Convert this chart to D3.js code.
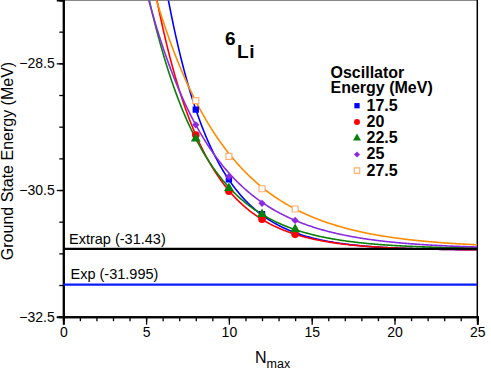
<!DOCTYPE html>
<html>
<head>
<meta charset="utf-8">
<script src="https://cdn.jsdelivr.net/npm/d3@7/dist/d3.min.js"></script>
<style>
    body { margin: 0; background: #fff; }
    text { font-family: "Liberation Sans", Arial, Helvetica, sans-serif; }
</style>
</head>
<body>
<div id="chart"></div>
<script>

// oscillator energies (MeV) and the Nmax values that were computed
var energies = ["17.5", "20", "22.5", "25", "27.5"];
var nmax = [8, 10, 12, 14];

// ground state energies (MeV), one row per oscillator energy
var e175 = [-29.23, -30.33, -30.88, -31.18];
var e20  = [-29.63, -30.52, -30.96, -31.20];
var e225 = [-29.69, -30.47, -30.88, -31.12];
var e25  = [-29.47, -30.29, -30.71, -30.98];
var e275 = [-29.09, -29.97, -30.48, -30.80];

// exponential fit E(N) = Einf + a * exp(-b N)
var fitInf  = [-31.45, -31.45, -31.43, -31.43, -31.42];
var fitAmp  = [35.7, 25.5, 17.7, 13.9, 13.5];
var fitRate = [0.347, 0.33, 0.29, 0.245, 0.22];

var extrapValue = -31.43;
var expValue = -31.995;

var xTicks = [0, 5, 10, 15, 20, 25];
var yTicks = [-28.5, -30.5, -32.5];

var rows = [e175, e20, e225, e25, e275];
var colors = ["#0000ff", "#ff0000", "#0a800a", "#8a2be2", "#ff8c00"];
var diamond = d3.symbolDiamond2 || d3.symbolDiamond;
var symbols = [d3.symbolSquare, d3.symbolCircle, d3.symbolTriangle, diamond, d3.symbolSquare];

var width = 491, height = 369;
var plotLeft = 63.3, plotRight = 477.3, plotTop = 0.5, plotBottom = 316.7;

var svg = d3.select("#chart").append("svg")
    .attr("width", width)
    .attr("height", height);

var x = d3.scaleLinear().domain([0, 25]).range([plotLeft, plotRight]);
var y = d3.scaleLinear().domain([-32.5, -27.5]).range([plotBottom, 0]);

svg.append("defs").append("clipPath").attr("id", "plotclip")
    .append("rect")
    .attr("x", plotLeft).attr("y", plotTop)
    .attr("width", plotRight - plotLeft).attr("height", plotBottom - plotTop);

// frame: top and right borders
svg.append("line")
    .attr("x1", plotLeft).attr("x2", plotRight).attr("y1", plotTop).attr("y2", plotTop)
    .attr("stroke", "#888").attr("stroke-width", 1);
svg.append("line")
    .attr("x1", plotRight).attr("x2", plotRight).attr("y1", 0).attr("y2", plotBottom)
    .attr("stroke", "#000").attr("stroke-width", 1.5);

// x axis: minor ticks every 1, labels every 5
var xAxisMinor = d3.axisBottom(x).tickValues(d3.range(0, 26, 1)).tickSize(4.5).tickFormat("");
var xAxis = d3.axisBottom(x).tickValues(xTicks).tickSize(8).tickPadding(2).tickFormat(d3.format("d"));

svg.append("g").attr("transform", "translate(0," + plotBottom + ")").call(xAxisMinor);
var gx = svg.append("g").attr("transform", "translate(0," + plotBottom + ")").call(xAxis);

// y axis: ticks every 0.5, labels every 2
var yAxisMinor = d3.axisLeft(y).tickValues(d3.range(-32.5, -27.4, 0.5)).tickSize(4).tickFormat("");
var yAxis = d3.axisLeft(y).tickValues(yTicks).tickSize(6.5).tickPadding(2).tickFormat(d3.format(".1f"));

svg.append("g").attr("transform", "translate(" + plotLeft + ",0)").call(yAxisMinor);
var gy = svg.append("g").attr("transform", "translate(" + plotLeft + ",0)").call(yAxis);

svg.selectAll(".domain").attr("stroke", "#000").attr("stroke-width", 2);
svg.selectAll(".tick line").attr("stroke", "#000").attr("stroke-width", 1.3);
svg.selectAll(".tick text")
    .style("font-size", "14px")
    .style("font-family", "'Liberation Sans', Arial, sans-serif")
    .attr("fill", "#000");

// axis titles
svg.append("text")
    .attr("transform", "translate(13,161) rotate(-90)")
    .attr("text-anchor", "middle")
    .style("font-size", "16px")
    .text("Ground State Energy (MeV)");

var nt = svg.append("text")
    .attr("x", 255).attr("y", 363)
    .style("font-size", "16px")
    .text("N");
nt.append("tspan").attr("dy", 4.5).style("font-size", "12.5px").text("max");

// fit curves
var plot = svg.append("g").attr("clip-path", "url(#plotclip)");

var line = d3.line()
    .x(function(d) { return x(d[0]); })
    .y(function(d) { return y(d[1]); });

rows.forEach(function(row, i) {
    var pts = d3.range(4, 25.001, 0.05).map(function(n) {
        return [n, fitInf[i] + fitAmp[i] * Math.exp(-fitRate[i] * n)];
    });
    plot.append("path")
        .datum(pts)
        .attr("d", line)
        .attr("fill", "none")
        .attr("stroke", colors[i])
        .attr("stroke-width", 1.6);
});

// reference lines
plot.append("line")
    .attr("x1", x(0)).attr("x2", x(25))
    .attr("y1", y(extrapValue)).attr("y2", y(extrapValue))
    .attr("stroke", "#000").attr("stroke-width", 2.2);
plot.append("line")
    .attr("x1", x(0)).attr("x2", x(25))
    .attr("y1", y(expValue)).attr("y2", y(expValue))
    .attr("stroke", "#0a1cff").attr("stroke-width", 2.2);

svg.append("text")
    .attr("x", 69).attr("y", 244)
    .style("font-size", "14.5px")
    .text("Extrap (" + extrapValue + ")");
svg.append("text")
    .attr("x", 70.5).attr("y", 279)
    .style("font-size", "14.5px")
    .text("Exp (" + expValue + ")");

// data markers
function markerStyle(sel, i) {
    sel.attr("fill", i == 4 ? "#fff" : colors[i])
        .attr("stroke", i == 4 ? "#ffb070" : "none")
        .attr("stroke-width", 1.2);
}
var sizes = [40, 45, 42, 34, 36];

rows.forEach(function(row, i) {
    var sym = d3.symbol().type(symbols[i]).size(sizes[i]);
    plot.selectAll(".m" + i)
        .data(row)
        .enter()
        .append("path")
        .attr("class", "m" + i)
        .attr("d", sym)
        .attr("transform", function(d, j) {
            return "translate(" + x(nmax[j]) + "," + y(d) + ")";
        })
        .call(markerStyle, i);
});

// nucleus label
var lab = svg.append("text")
    .attr("x", 225).attr("y", 45)
    .style("font-size", "19px")
    .style("font-weight", "bold")
    .text("6");
lab.append("tspan")
    .attr("dx", 1.5).attr("dy", 12.5)
    .style("letter-spacing", "0.5px")
    .text("Li");

// legend
var legend = svg.append("g");
legend.append("text")
    .attr("x", 330.5).attr("y", 77.7)
    .style("font-size", "16px").style("font-weight", "bold")
    .text("Oscillator");
legend.append("text")
    .attr("x", 330.5).attr("y", 93.3)
    .style("font-size", "16px").style("font-weight", "bold")
    .text("Energy (MeV)");

energies.forEach(function(e, i) {
    var yy = 110.7 + i * 16.25;
    legend.append("path")
        .attr("d", d3.symbol().type(symbols[i]).size(i == 4 ? 30 : (i == 3 ? 24 : 28)))
        .attr("transform", "translate(357," + (yy - 5) + ")")
        .call(markerStyle, i);
    legend.append("text")
        .attr("x", 366.5).attr("y", yy)
        .style("font-size", "16px").style("font-weight", "bold")
        .text(e);
});

</script>
</body>
</html>
